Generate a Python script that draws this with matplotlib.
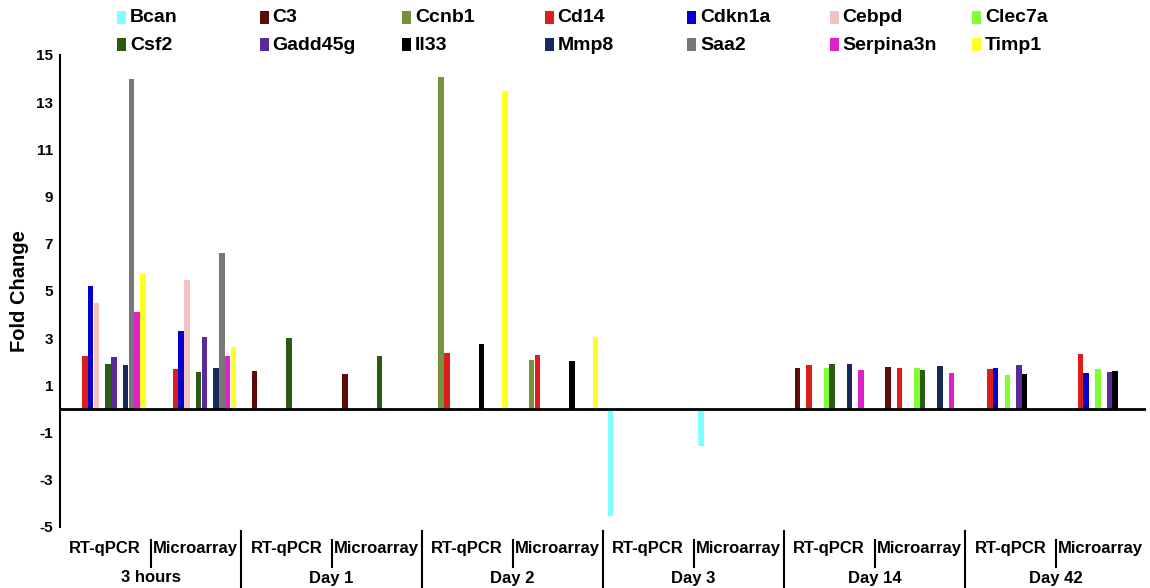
import numpy as np
import matplotlib.pyplot as plt
from matplotlib.patches import Rectangle

plt.rcParams['font.family'] = ['Liberation Sans', 'DejaVu Sans']
plt.rcParams['axes.unicode_minus'] = False

genes = ['Bcan', 'C3', 'Ccnb1', 'Cd14', 'Cdkn1a', 'Cebpd', 'Clec7a',
         'Csf2', 'Gadd45g', 'Il33', 'Mmp8', 'Saa2', 'Serpina3n', 'Timp1']
colors = ['#80FFFF', '#5E0B0B', '#76923C', '#DD1C1C', '#0A00CC', '#F2C2C2', '#80FF33',
          '#2B5A12', '#5A2A9C', '#000000', '#17285A', '#777777', '#DC22C8', '#FFFF22']
times = ['3 hours', 'Day 1', 'Day 2', 'Day 3', 'Day 14', 'Day 42']
methods = ['RT-qPCR', 'Microarray']

n = np.nan
# fold change, order: 3h qPCR, 3h array, D1 qPCR, D1 array, ... D42 array
bcan      = [n, n,      n, n,      n, n,         -4.52, -1.57, n, n,       n, n]
c3        = [n, n,      1.60, 1.50, n, n,        n, n,   1.74, 1.79,     n, n]
ccnb1     = [n, n,      n, n,      14.05, 2.08,  n, n,   n, n,           n, n]
cd14      = [2.25, 1.71, n, n,     2.37, 2.29,   n, n,   1.88, 1.74,     1.70, 2.32]
cdkn1a    = [5.21, 3.29, n, n,     n, n,         n, n,   n, n,           1.74, 1.53]
cebpd     = [4.50, 5.48, n, n,     n, n,         n, n,   n, n,           n, n]
clec7a    = [n, n,      n, n,      n, n,         n, n,   1.74, 1.74,     1.44, 1.70]
csf2      = [1.90, 1.58, 3.02, 2.23, n, n,       n, n,   1.92, 1.67,     n, n]
gadd45g   = [2.20, 3.04, n, n,     n, n,         n, n,   n, n,           1.88, 1.57]
il33      = [n, n,      n, n,      2.77, 2.02,   n, n,   n, n,           1.50, 1.63]
mmp8      = [1.85, 1.75, n, n,     n, n,         n, n,   1.91, 1.84,     n, n]
saa2      = [14.0, 6.61, n, n,     n, n,         n, n,   n, n,           n, n]
serpina3n = [4.12, 2.25, n, n,     n, n,         n, n,   1.65, 1.53,     n, n]
timp1     = [5.73, 2.64, n, n,     13.46, 3.04,  n, n,   n, n,           n, n]

values = [bcan, c3, ccnb1, cd14, cdkn1a, cebpd, clec7a,
          csf2, gadd45g, il33, mmp8, saa2, serpina3n, timp1]

grp_w = 15.6   # slot units per method group
margin = 0.79
ngrp = len(times) * 2

fig = plt.figure(figsize=(11.5, 5.88), dpi=100)
ax = fig.add_axes([60/1150, 1-527/588, 1086/1150, 472/588])

g = np.arange(ngrp)
for k, (name, vals) in enumerate(zip(genes, values)):
    x = g*grp_w + margin + k + 0.5
    ax.bar(x, vals, width=0.95, color=colors[k], linewidth=0)

ax.axhline(0, color='black', lw=2, zorder=5)
ax.set_xlim(0, ngrp*grp_w)
ax.set_ylim(-5, 15)
ax.set_xticks([])
ax.set_yticks(np.arange(-5, 16, 2))
ax.tick_params(axis='y', length=0, labelsize=11, pad=5)
for t in ax.get_yticklabels():
    t.set_fontweight('bold')
for s in ['top', 'right', 'bottom']:
    ax.spines[s].set_visible(False)
ax.spines['left'].set_linewidth(1.5)
ax.set_ylabel('Fold Change', fontsize=14.5, fontweight='bold')
ax.yaxis.set_label_coords((29-60)/1086, 0.5)

# category labels under the plot
h = 472.0
for i in range(ngrp):
    xc = i*grp_w + grp_w/2
    ax.text(xc, -22/h, methods[i % 2], transform=ax.get_xaxis_transform(),
            ha='center', va='center', fontsize=12, fontweight='bold', clip_on=False)
for j, t in enumerate(times):
    xc = (2*j + 1)*grp_w
    ax.text(xc, -51/h, t, transform=ax.get_xaxis_transform(),
            ha='center', va='center', fontsize=12, fontweight='bold', clip_on=False)
    # short line between methods
    ax.plot([xc, xc], [-13/h, -40/h], color='black', lw=1.5,
            transform=ax.get_xaxis_transform(), clip_on=False)
    if j > 0:
        xb = 2*j*grp_w
        ax.plot([xb, xb], [-4/h, -62/h], color='black', lw=1.5,
                transform=ax.get_xaxis_transform(), clip_on=False)

# legend, 2 rows x 7 columns
for k, name in enumerate(genes):
    col, row = k % 7, k // 7
    px = 117 + col*142.5
    py = 18 + row*27
    fig.add_artist(Rectangle((px/1150, 1-(py+6)/588), 9/1150, 13/588,
                             transform=fig.transFigure, color=colors[k], lw=0))
    fig.text((px+13)/1150, 1-py/588, name, ha='left', va='center',
             fontsize=14, fontweight='bold')

fig.savefig('out.png', dpi=100)
